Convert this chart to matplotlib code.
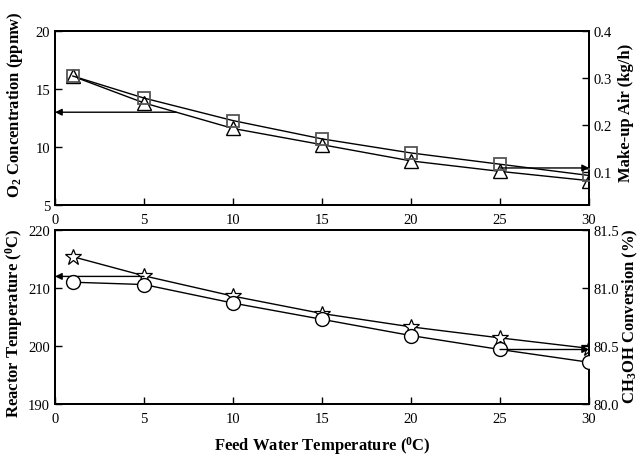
import matplotlib
matplotlib.use("Agg")
import matplotlib.pyplot as plt
from matplotlib.ticker import FormatStrFormatter

# ---- data ----
feed_temp = [1, 5, 10, 15, 20, 25, 30]
o2_conc = [16.1, 13.8, 11.6, 10.2, 8.8, 7.9, 7.1]           # left, top (triangles)
makeup_air = [0.304, 0.257, 0.209, 0.170, 0.140, 0.116, 0.092]  # right, top (squares)
reactor_temp = [215.4, 212.1, 208.6, 205.6, 203.3, 201.4, 199.6]  # left, bottom (stars)
ch3oh_conv = [81.05, 81.03, 80.87, 80.73, 80.59, 80.47, 80.36]     # right, bottom (circles)

x_ticks = [0, 5, 10, 15, 20, 25, 30]
top_left_ticks = [5, 10, 15, 20]
top_right_ticks = [0.1, 0.2, 0.3, 0.4]
bot_left_ticks = [190, 200, 210, 220]
bot_right_ticks = [80.0, 80.5, 81.0, 81.5]

# arrow annotations (start x, end x, y in the axis they point to)
arrow_top_left = (6.8, 0.0, 13.0)
arrow_top_right = (25.0, 30.0, 0.108)
arrow_bot_left = (5.0, 0.0, 212.0)
arrow_bot_right = (25.0, 30.0, 80.47)

plt.rcParams['font.family'] = ['Liberation Serif', 'DejaVu Serif']
plt.rcParams['mathtext.fontset'] = 'custom'
plt.rcParams['mathtext.rm'] = 'Liberation Serif:bold'
plt.rcParams['mathtext.it'] = 'Liberation Serif:bold'
plt.rcParams['mathtext.bf'] = 'Liberation Serif:bold'
plt.rcParams['mathtext.default'] = 'rm'

fig = plt.figure(figsize=(6.39, 4.56), dpi=100)
ax1 = fig.add_axes([0.0861, 0.5482, 0.8357, 0.3816])
ax2 = fig.add_axes([0.0861, 0.1118, 0.8357, 0.3816])
ax1r = ax1.twinx()
ax2r = ax2.twinx()

lw = 1.0
tick_fs = 10.5
lab_fs = 12

# top panel
ax1.plot(feed_temp, o2_conc, color='black', lw=lw, marker='^', ms=10,
         mfc='white', mec='black', mew=1.0, zorder=3)
ax1r.plot(feed_temp, makeup_air, color='black', lw=lw, marker='s', ms=9,
          mfc='none', mec='#555555', mew=1.3, zorder=3)
ax1.set_xlim(0, 30)
ax1.set_ylim(5, 20)
ax1r.set_ylim(0.029, 0.4)
ax1.set_xticks(x_ticks)
ax1.set_yticks(top_left_ticks)
ax1r.set_yticks(top_right_ticks)
ax1r.yaxis.set_major_formatter(FormatStrFormatter('%.1f'))
ax1.set_ylabel('O$_2$ Concentration (ppmw)', fontsize=lab_fs, fontweight='bold')
ax1r.set_ylabel('Make-up Air (kg/h)', fontsize=lab_fs, fontweight='bold')
ax1.yaxis.set_label_coords(-0.056, 0.583)
ax1r.yaxis.set_label_coords(1.054, 0.534)

# bottom panel
ax2.plot(feed_temp, reactor_temp, color='black', lw=lw, marker='*', ms=12,
         mfc='white', mec='black', mew=0.9, zorder=3)
ax2r.plot(feed_temp, ch3oh_conv, color='black', lw=lw, marker='o', ms=10,
          mfc='white', mec='black', mew=1.0, zorder=3)
ax2.set_xlim(0, 30)
ax2.set_ylim(190, 220)
ax2r.set_ylim(80.0, 81.5)
ax2.set_xticks(x_ticks)
ax2.set_yticks(bot_left_ticks)
ax2r.set_yticks(bot_right_ticks)
ax2r.yaxis.set_major_formatter(FormatStrFormatter('%.1f'))
ax2.set_ylabel('Reactor Temperature ($^0$C)', fontsize=lab_fs, fontweight='bold')
ax2r.set_ylabel('CH$_3$OH Conversion (%)', fontsize=lab_fs, fontweight='bold')
ax2.yaxis.set_label_coords(-0.056, 0.468)
ax2r.yaxis.set_label_coords(1.059, 0.511)
ax2.set_xlabel('Feed Water Temperature ($^0$C)', fontsize=lab_fs, fontweight='bold', labelpad=6)

for a in (ax1, ax2, ax1r, ax2r):
    a.tick_params(direction='in', labelsize=tick_fs, length=5, width=1.0)
    for s in a.spines.values():
        s.set_linewidth(1.4)
for a in (ax1, ax2):
    a.tick_params(axis='x', top=False, pad=6)
    a.tick_params(axis='y', right=False)

aprops = dict(arrowstyle='-|>', color='black', lw=1.0, mutation_scale=10,
              shrinkA=0, shrinkB=0)
for ax, (xs, xe, y) in ((ax1, arrow_top_left), (ax1r, arrow_top_right),
                        (ax2, arrow_bot_left), (ax2r, arrow_bot_right)):
    ax.annotate('', xy=(xe, y), xytext=(xs, y), arrowprops=aprops,
                annotation_clip=False, zorder=4)

fig.savefig('out.png', dpi=100)
